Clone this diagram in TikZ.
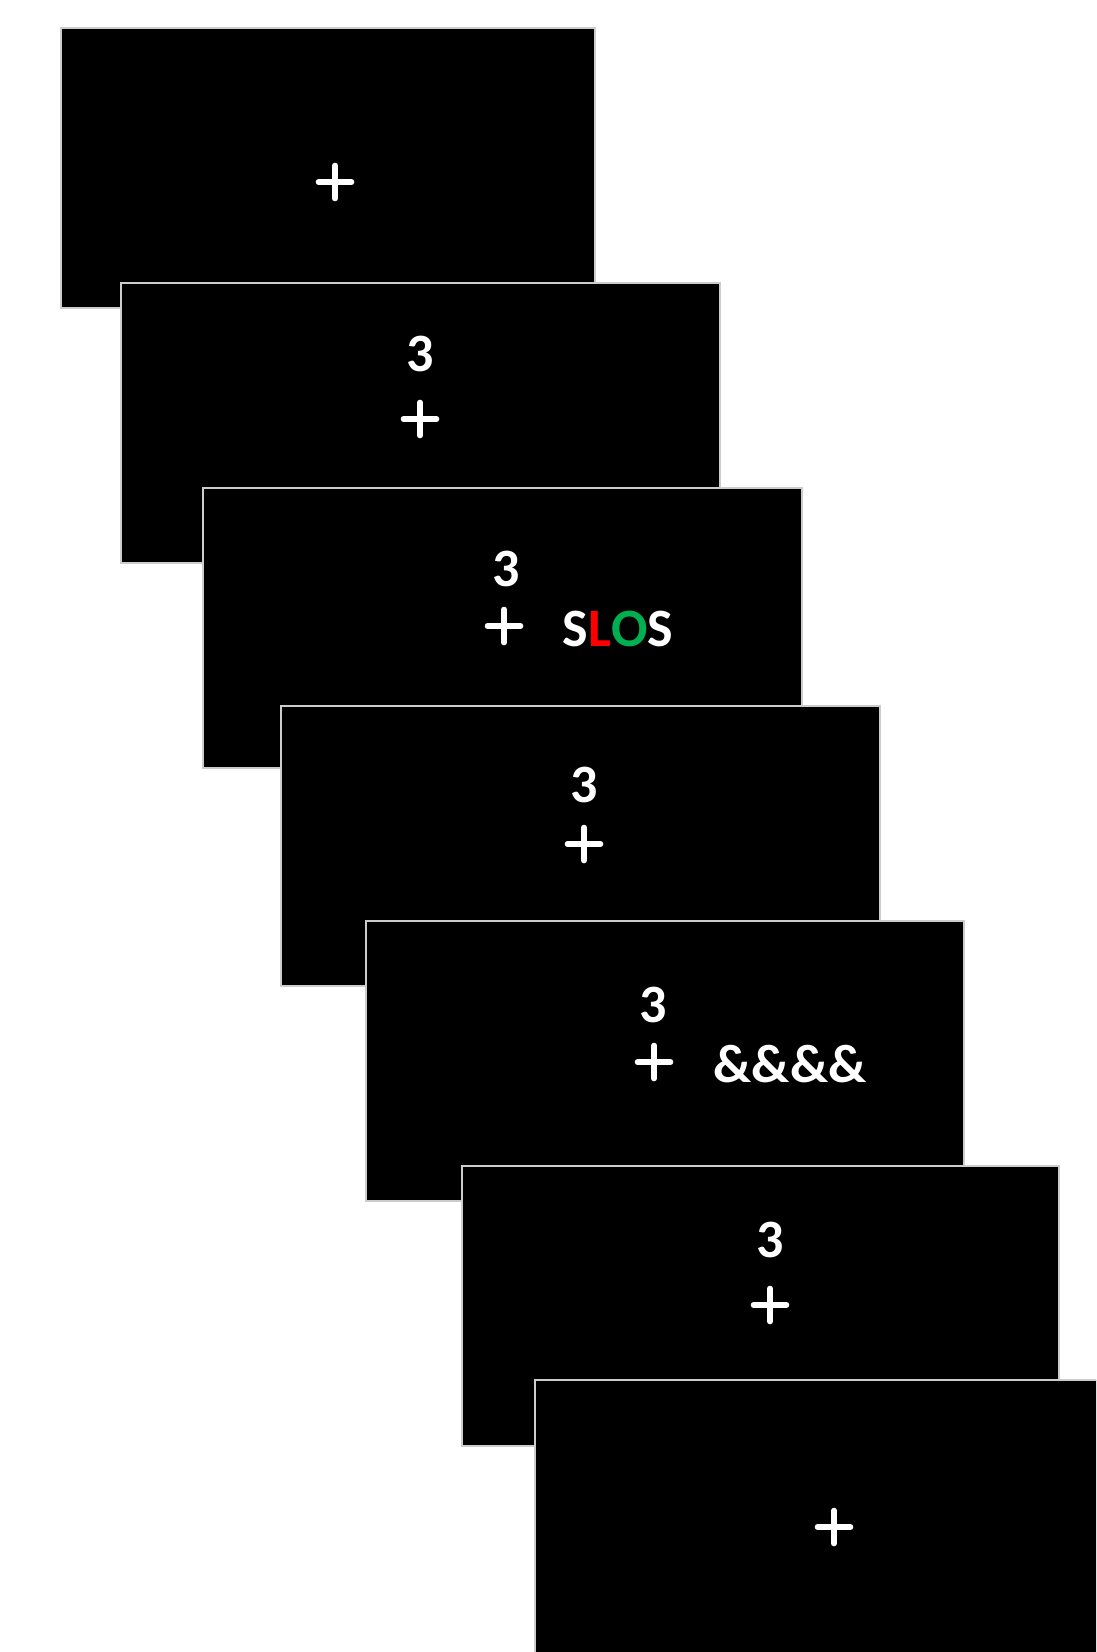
\documentclass[tikz,border=0pt]{standalone}
\usepackage{fontspec}
\setmainfont{Carlito}
\usetikzlibrary{calc}
\definecolor{slred}{HTML}{FF0000}
\definecolor{slgreen}{HTML}{00B050}

\begin{document}
\begin{tikzpicture}[
    x=0.5pt,y=-0.5pt,
    every node/.style={text=white,inner sep=0pt,
      font=\fontsize{27}{32}\selectfont\bfseries},
    screen/.style={fill=black,draw=black!20,line width=0.7pt},
    fixbar/.style={draw=white,line width=2.8pt,line cap=round}
  ]
  \useasboundingbox (0,0) rectangle (1096,1652);
  \clip (0,0) rectangle (1096,1652);
  % screens, back to front
  \foreach \x/\y/\w in {61/28/534, 121/283/599, 203/488/599, 281/706/599,
    366/921/598, 462/1166/597, 535/1380/600}{
    \draw[screen] (\x,\y) rectangle ++(\w,280);}
  % fixation crosses
  \foreach \n/\x/\y in {1/335/182, 2/420/419, 3/504/626, 4/584/844,
    5/654/1062, 6/770/1305, 7/834/1527}{
    \coordinate (fix\n) at (\x,\y);
    \draw[fixbar] ($(fix\n)+(-16.5,0)$) -- ($(fix\n)+(16.5,0)$);
    \draw[fixbar] ($(fix\n)+(0,-16.5)$) -- ($(fix\n)+(0,16.5)$);}
  % cues
  \foreach \n/\x/\y in {2/420/354, 3/506/569, 4/584/785, 5/653/1005, 6/770/1240}{
    \node (cue\n) at (\x,\y) {3};}
  % targets
  \node (word3) at (618,629) {S\textcolor{slred}{L}\textcolor{slgreen}{O}S};
  \node (word5) at (790,1064) {\&\&\&\&};
\end{tikzpicture}
\end{document}
